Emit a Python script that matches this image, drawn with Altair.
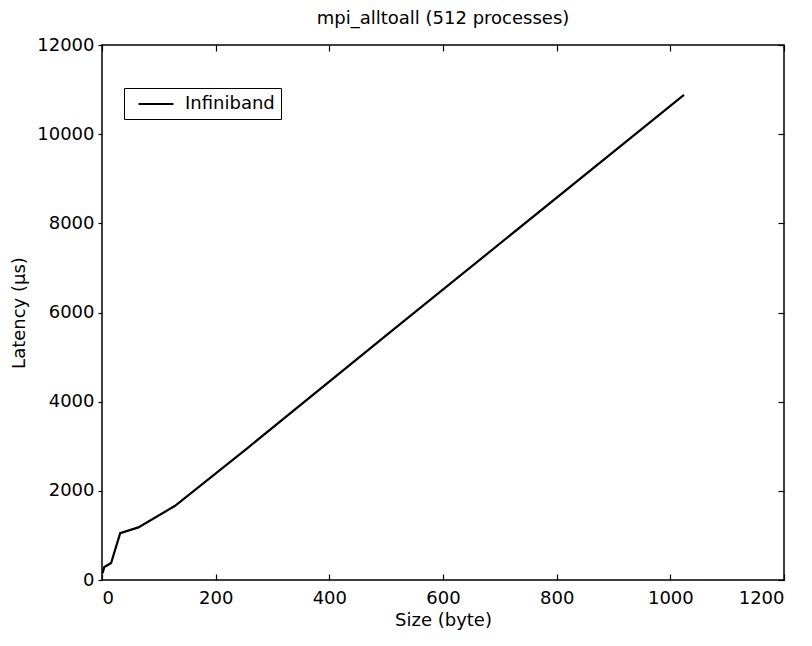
import altair as alt
import pandas as pd

sizes = [1, 2, 4, 8, 16, 32, 64, 128, 256, 512, 1024]
latency = [150, 200, 290, 320, 380, 1050, 1180, 1660, 2960, 5610, 10880]
series = ["Infiniband"] * len(sizes)

x_ticks = [0, 200, 400, 600, 800, 1000, 1200]
y_ticks = [0, 2000, 4000, 6000, 8000, 10000, 12000]

df = pd.DataFrame({"size": sizes, "latency": latency, "series": series})

W, H = 682, 535
FONT = "DejaVu Sans"
FS = 18

xscale = alt.Scale(domain=[0, 1200], nice=False, zero=False)
yscale = alt.Scale(domain=[0, 12000], nice=False, zero=False)

base = alt.Chart(df)

line = base.mark_line(color="black", strokeWidth=2.2).encode(
    x=alt.X("size:Q", scale=xscale,
            axis=alt.Axis(orient="bottom", values=x_ticks, title="Size (byte)",
                          format="d", ticks=False, domain=False, grid=False,
                          labelPadding=9, titlePadding=4)),
    y=alt.Y("latency:Q", scale=yscale,
            axis=alt.Axis(orient="left", values=y_ticks, title="Latency (µs)",
                          format="d", tickSize=4, domain=False, grid=False,
                          labelPadding=4, titlePadding=8)),
    color=alt.Color("series:N", scale=alt.Scale(range=["black"]),
                    legend=alt.Legend(orient="none", legendX=22, legendY=43,
                                      title=None, symbolType="M-2,0L2,0",
                                      symbolSize=306, symbolStrokeWidth=2.2,
                                      symbolOffset=16, labelOffset=19,
                                      padding=6, fillColor="white",
                                      strokeColor="black",
                                      labelFont=FONT, labelFontSize=FS,
                                      labelColor="black")),
)

ticks_a = base.mark_line(opacity=0).encode(
    x=alt.X("size:Q", scale=xscale,
            axis=alt.Axis(orient="top", offset=-H, values=x_ticks, labels=False,
                          domain=False, grid=False, title=None, tickSize=6)),
    y=alt.Y("latency:Q", scale=yscale,
            axis=alt.Axis(orient="left", offset=-W, values=y_ticks, labels=False,
                          domain=False, grid=False, title=None, tickSize=6)),
)

ticks_b = base.mark_line(opacity=0).encode(
    x=alt.X("size:Q", scale=xscale,
            axis=alt.Axis(orient="bottom", offset=-H, values=x_ticks, labels=False,
                          domain=False, grid=False, title=None, tickSize=6)),
    y=alt.Y("latency:Q", scale=yscale, axis=None),
)

chart = alt.layer(line, ticks_a, ticks_b).resolve_axis(
    x="independent", y="independent"
).properties(
    width=W, height=H,
    title=alt.TitleParams("mpi_alltoall (512 processes)", font=FONT, fontSize=FS,
                          fontWeight="normal", color="black", anchor="middle",
                          offset=8),
    autosize=alt.AutoSizeParams(type="none"),
    padding={"left": 94, "top": 37, "right": 20, "bottom": 50},
).configure_view(
    stroke="black", strokeWidth=1.5
).configure_axis(
    labelFont=FONT, labelFontSize=FS, labelColor="black",
    titleFont=FONT, titleFontSize=FS, titleColor="black", titleFontWeight="normal",
    tickColor="black", tickWidth=1.2,
)

chart.save("out.html", embed_options={"renderer": "svg", "actions": False})
